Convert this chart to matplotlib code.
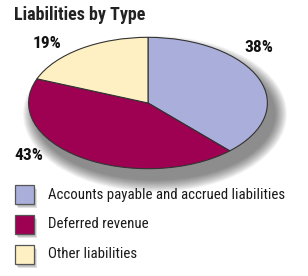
import matplotlib.pyplot as plt
from matplotlib.patches import Ellipse, Rectangle

# Data
categories = ["Accounts payable and accrued liabilities", "Deferred revenue", "Other liabilities"]
shares = [38, 43, 19]
pct_labels = ["38%", "43%", "19%"]
colors = ["#AAAEDA", "#9E0052", "#FEF0C2"]
title = "Liabilities by Type"

W, H = 308, 276
cond = ["Roboto Condensed", "DejaVu Sans"]

fig = plt.figure(figsize=(W / 100, H / 100), dpi=100)
fig.patch.set_facecolor("white")

# background axes in pixel coordinates
bg = fig.add_axes([0, 0, 1, 1])
bg.set_xlim(0, W)
bg.set_ylim(H, 0)
bg.axis("off")

# ellipse geometry (pixels)
cx, cy, a, b = 148, 103, 120, 66

# soft drop shadow under the pie
for i in range(14):
    grow = 24 - i * 1.8
    bg.add_patch(Ellipse((cx + 7, cy + 11), 2 * a + grow, 2 * b + grow,
                         color="black", alpha=0.04, lw=0))

# pie in its own stretched axes
pax = fig.add_axes([(cx - a) / W, (H - cy - b) / H, 2 * a / W, 2 * b / H])
pax.pie(shares, colors=colors, startangle=90, counterclock=False,
        wedgeprops=dict(edgecolor="#333333", linewidth=0.8))
pax.set_aspect("auto")
pax.set_xlim(-1.005, 1.005)
pax.set_ylim(-1.005, 1.005)
pax.axis("off")

# percent labels
label_pos = [(259, 47), (29, 155), (47, 43)]
for txt, (x, y) in zip(pct_labels, label_pos):
    bg.text(x, y, txt, ha="center", va="center", fontsize=12.5,
            fontweight="bold", family=cond, color="#111111")

# title
bg.text(14, 15, title, ha="left", va="center", fontsize=13,
        fontweight="bold", family=cond, color="#222222")

# legend
leg_y = [194.5, 224.5, 254.5]
for cat, col, y in zip(categories, colors, leg_y):
    for k in range(5):
        bg.add_patch(Rectangle((15 + 1 + k * 0.6, y - 9.5 + 2 + k * 0.6), 19, 19,
                               color="black", alpha=0.06, lw=0))
    bg.add_patch(Rectangle((15, y - 9.5), 19, 19, facecolor=col,
                           edgecolor="#555555", lw=0.9))
    bg.text(48, y, cat, ha="left", va="center", fontsize=10.7,
            family=cond, color="#1a1a1a")

fig.savefig("out.png", dpi=100, facecolor="white")
